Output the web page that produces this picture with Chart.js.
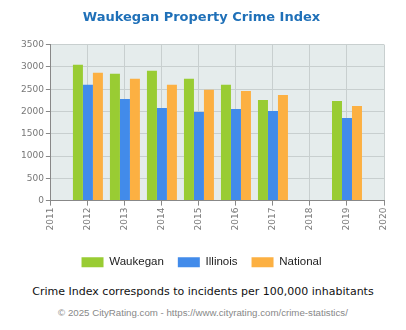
<!DOCTYPE html>
<html>
<head>
<meta charset="utf-8">
<script src="https://cdn.jsdelivr.net/npm/chart.js@4"></script>
<style>
	body { margin: 0; background: #fff; width: 406px; height: 330px; overflow: hidden; }
	.chart { position: relative; width: 406px; height: 278px; }
	.note { font-family: "DejaVu Sans", Verdana, sans-serif; font-size: 11px; line-height: 13px; color: #111; text-align: center; margin-top: 7px; }
	.copy { font-family: "Liberation Sans", Arial, sans-serif; font-size: 9.7px; line-height: 12px; color: #888; text-align: center; margin-top: 9px; }
</style>
</head>
<body>
<div class="chart"><canvas id="crime"></canvas></div>
<div class="note">Crime Index corresponds to incidents per 100,000 inhabitants</div>
<div class="copy">© 2025 CityRating.com - https://www.cityrating.com/crime-statistics/</div>
<script>
// données
const years = ['2011', '2012', '2013', '2014', '2015', '2016', '2017', '2018', '2019', '2020']
const waukegan = [null, 3048, 2845, 2913, 2732, 2597, 2258, null, 2235, null]
const illinois = [null, 2597, 2281, 2077, 1987, 2055, 2010, null, 1852, null]
const national = [null, 2868, 2732, 2597, 2487, 2461, 2371, null, 2123, null]
const y_ticks = [0, 500, 1000, 1500, 2000, 2500, 3000, 3500]

// fond gris de la zone de tracé
const plot_background = {
	id: 'plot_background',
	beforeDraw(chart) {
		const { ctx, chartArea } = chart
		ctx.save()
		ctx.fillStyle = '#e5ecec'
		ctx.fillRect(chartArea.left, chartArea.top, chartArea.right - chartArea.left, chartArea.bottom - chartArea.top)
		ctx.restore()
	}
}

const tick_font = { family: '"DejaVu Sans", Verdana, sans-serif', size: 9 }

new Chart(document.getElementById('crime'), {
	type: 'bar',
	data: {
		labels: years,
		datasets: [
			{ label: 'Waukegan', data: waukegan, backgroundColor: '#99cc33' },
			{ label: 'Illinois', data: illinois, backgroundColor: '#428bea' },
			{ label: 'National', data: national, backgroundColor: '#fcb042' }
		]
	},
	options: {
		responsive: true,
		maintainAspectRatio: false,
		animation: false,
		datasets: { bar: { categoryPercentage: 0.81, barPercentage: 1 } },
		layout: { padding: { left: 19, right: 22, top: 0, bottom: 0 } },
		plugins: {
			title: {
				display: true,
				text: 'Waukegan Property Crime Index',
				color: '#1f70b8',
				font: { family: '"DejaVu Sans", Verdana, sans-serif', size: 13, weight: 'bold' },
				padding: { top: 10, bottom: 19 }
			},
			legend: {
				position: 'bottom',
				labels: {
					boxWidth: 22,
					boxHeight: 10,
					padding: 14,
					color: '#222',
					font: { family: '"Liberation Sans", Arial, sans-serif', size: 11.5 }
				}
			},
			tooltip: { enabled: false }
		},
		scales: {
			x: {
				offset: false,
				grid: { offset: false, color: '#c8cfcf', drawTicks: true, tickLength: 5, tickColor: '#888' },
				border: { color: '#888' },
				ticks: { minRotation: 90, maxRotation: 90, color: '#777', font: tick_font, padding: 2 },
				afterFit(axis) { axis.height += 10 }
			},
			y: {
				min: 0,
				max: 3500,
				afterBuildTicks(axis) { axis.ticks = y_ticks.map(v => ({ value: v })) },
				grid: { color: '#c8cfcf', tickLength: 5, tickColor: '#888' },
				border: { color: '#888' },
				ticks: { color: '#777', font: tick_font, padding: 2, callback: v => v }
			}
		}
	},
	plugins: [plot_background]
})
</script>
</body>
</html>
